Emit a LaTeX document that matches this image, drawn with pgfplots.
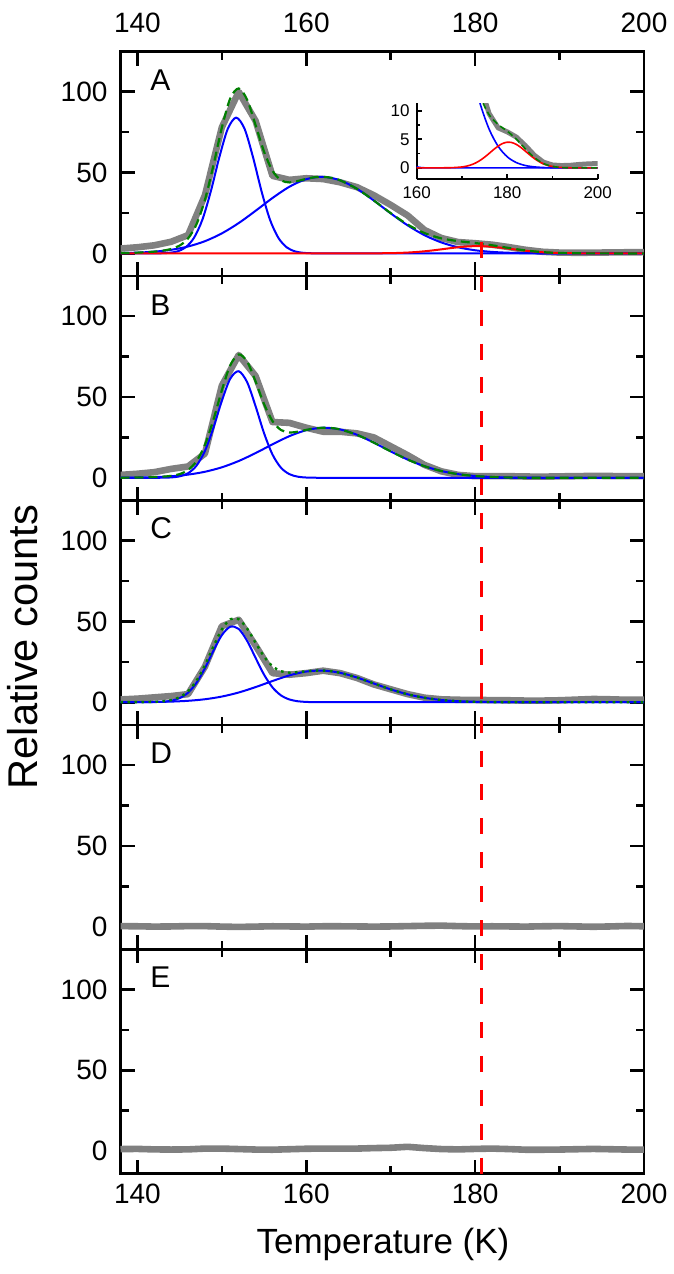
\documentclass[border=0pt]{standalone}
\usepackage{fontspec}
\setmainfont{Liberation Sans}
\usepackage{pgfplots}
\pgfplotsset{compat=1.18}
\usepackage{pgfplotstable}

\definecolor{dgray}{RGB}{128,128,128}
\definecolor{dgreen}{RGB}{0,128,0}

% ---------------- Panel A ----------------
\pgfplotstableread{
T v
138 3.0
140 3.8
142 5.0
144 7.2
146 11.3
148 36
150 78
152 100
154 82
156 48
158 45.5
160 46.5
162 46
164 44
166 41
168 36
170 30
172 23.5
174 14.5
176 9.5
178 7.0
180 6.3
182 5.4
184 3.9
186 2.2
188 1.0
190 0.5
192 0.4
194 0.45
196 0.6
198 0.7
200 0.75
}\grayA

\pgfplotstableread{
T v
138 0
139.7 0
140.7 0
141.7 0.01
142.7 0.07
143.7 0.32
144.7 1.19
145.7 3.69
146.7 9.6
147.7 20.9
148.7 38.5
149.7 59.4
150.7 77.0
151.7 84.0
152.7 77.0
153.7 59.4
154.7 38.5
155.7 20.9
156.7 9.6
157.7 3.69
158.7 1.19
159.7 0.32
160.7 0.07
161.7 0.01
162.7 0
163.7 0
200 0
}\Aone

\pgfplotstableread{
T v
138 0.20
140 0.48
142 1.08
144 2.23
146 4.26
148 7.55
150 12.38
152 18.77
154 26.36
156 34.27
158 41.24
160 45.94
162 47.38
164 45.24
166 39.99
168 32.72
170 24.78
172 17.38
174 11.28
176 6.78
178 3.77
180 1.94
182 0.93
184 0.41
186 0.17
188 0.06
190 0.02
192 0
194 0
200 0
}\Atwo

\pgfplotstableread{
T v
138 0
150 0
160 0
164 0
166 0.01
168 0.04
170 0.16
171 0.30
172 0.52
173 0.85
174 1.30
175 1.87
176 2.52
177 3.20
178 3.81
179 4.27
180 4.49
181 4.43
182 4.11
183 3.58
184 2.93
185 2.26
186 1.63
187 1.11
188 0.71
189 0.42
190 0.24
192 0.06
194 0.01
196 0
198 0
200 0
}\Ared

\pgfplotstableread{
T v
138 0.20
140 0.48
142 1.10
143 1.69
144 2.72
145 4.83
146 9.27
147 18.03
148 33.15
149 54.37
150 77.68
151 95.89
152 102.07
153 95.06
154 79.36
155 62.95
156 51.17
157 45.25
158 43.92
159 44.77
160 46.15
161 47.16
162 47.39
163 46.75
164 45.24
166 40.0
168 32.76
170 24.94
172 17.90
174 12.58
176 9.30
178 7.58
180 6.43
182 5.04
184 3.34
186 1.80
188 0.77
190 0.26
192 0.06
194 0.01
196 0
200 0
}\Agreen

% ---------------- Panel B ----------------
\pgfplotstableread{
T v
138 1.8
140 2.5
142 3.5
144 5.5
146 7
148 15
150 57
152 76
154 63
156 34.5
158 34
160 31
162 28.5
164 28.5
166 27.5
168 25
170 19.5
172 14
174 8
176 4
178 1.8
180 1.0
182 1.0
184 1.0
186 0.8
188 0.7
190 0.9
192 1.0
194 1.2
196 1.1
198 1.0
200 1.0
}\grayB

\pgfplotstableread{
T v
138 0
140 0
141 0
142 0.01
143 0.05
144 0.23
145 0.89
146 2.82
147 7.51
148 16.65
149 30.82
150 47.60
151 61.33
152 65.94
153 59.15
154 44.27
155 27.65
156 14.41
157 6.26
158 2.27
159 0.69
160 0.17
161 0.04
162 0.01
163 0
164 0
200 0
}\Bone

\pgfplotstableread{
T v
138 0.07
140 0.18
142 0.43
144 0.96
146 1.97
148 3.73
150 6.49
152 10.39
154 15.30
156 20.70
158 25.76
160 29.46
162 30.99
164 29.96
166 26.64
168 21.77
170 16.36
172 11.30
174 7.18
176 4.19
178 2.25
180 1.11
182 0.50
184 0.21
186 0.08
188 0.03
190 0.01
192 0
194 0
200 0
}\Btwo

\pgfplotstableread{
T v
138 0.07
140 0.18
142 0.43
143 0.69
144 1.19
145 2.28
146 4.79
147 10.25
148 20.38
149 35.79
150 54.09
151 69.63
152 76.33
153 71.89
154 59.57
155 45.63
156 35.11
157 29.60
158 28.03
159 28.53
160 29.63
161 30.57
162 31.0
163 30.79
164 29.96
166 26.64
168 21.77
170 16.36
172 11.30
174 7.18
176 4.19
178 2.25
180 1.11
182 0.50
184 0.21
186 0.08
188 0.03
190 0.01
192 0
194 0
200 0
}\Bgreen

% ---------------- Panel C ----------------
\pgfplotstableread{
T v
138 1.7
140 2.2
142 3.0
144 3.8
146 5.0
148 22
150 47
152 51
154 35
156 18
158 17
160 18
162 19.5
164 18
166 15
168 11
170 8
172 5
174 2.8
176 1.8
178 1.5
180 1.4
182 1.3
184 1.2
186 1.0
188 1.0
190 1.2
192 1.6
194 2.0
196 1.8
198 1.5
200 1.5
}\grayC

\pgfplotstableread{
T v
138 0
140 0
141 0.01
142 0.08
143 0.29
144 0.91
145 2.50
146 5.88
147 11.97
148 21.00
149 31.78
150 41.48
151 46.69
152 45.33
153 37.95
154 27.41
155 17.07
156 9.17
157 4.25
158 1.70
159 0.59
160 0.17
161 0.04
162 0.01
163 0
164 0
200 0
}\Cone

\pgfplotstableread{
T v
138 0.02
140 0.05
142 0.14
144 0.37
146 0.87
148 1.83
150 3.49
152 6.01
154 9.35
156 13.11
158 16.60
160 18.97
162 19.56
164 18.20
166 15.29
168 11.59
170 7.93
172 4.90
174 2.73
176 1.37
178 0.62
180 0.26
182 0.09
184 0.03
186 0.01
188 0
190 0
200 0
}\Ctwo

\pgfplotstableread{
T v
138 0.02
140 0.05
142 0.22
143 0.54
144 1.28
145 3.07
146 6.75
147 13.24
148 22.83
149 34.34
150 44.97
151 51.33
152 51.34
153 45.54
154 36.76
155 28.28
156 22.28
157 19.19
158 18.30
159 18.56
160 19.14
161 19.55
162 19.57
163 19.11
164 18.20
166 15.29
168 11.59
170 7.93
172 4.90
174 2.73
176 1.37
178 0.62
180 0.26
182 0.09
184 0.03
186 0.01
188 0
190 0
200 0
}\Cgreen

% ---------------- Panels D, E ----------------
\pgfplotstableread{
T v
138 0.3
140 0.2
142 0.0
144 0.1
146 0.3
148 0.3
150 0.0
152 -0.2
154 0.0
156 0.2
158 0.1
160 0.0
162 0.2
164 0.2
166 0.1
168 0.0
170 0.1
172 0.3
174 0.5
176 0.6
178 0.3
180 0.1
182 0.2
184 0.1
186 0.0
188 0.2
190 0.3
192 0.1
194 -0.1
196 0.1
198 0.4
200 0.2
}\grayD

\pgfplotstableread{
T v
138 1.2
140 1.3
142 1.0
144 0.9
146 1.0
148 1.5
150 1.5
152 1.2
154 0.9
156 0.8
158 1.1
160 1.4
162 1.5
164 1.5
166 1.5
168 1.8
170 2.0
172 2.6
174 1.8
176 1.2
178 1.0
180 1.3
182 1.5
184 1.2
186 0.8
188 0.8
190 0.9
192 1.1
194 1.3
196 1.1
198 0.9
200 0.9
}\grayE

\pgfplotstableread{
T v
180.7 562.6
180.7 -14.1
}\redline

\pgfplotsset{
  panel/.style={
    at={(60.25pt,#1)}, anchor=south west, scale only axis,
    width=261.75pt, height=112.2pt,
    xmin=138, xmax=200, ymin=-14.1, ymax=124.75,
    xtick={140,160,180,200}, minor xtick={150,170,190},
    ytick={0,50,100}, minor ytick={25,75},
    tick align=inside,
    major tick length=7pt, minor tick length=4pt,
    tick style={black, line width=1.3pt},
    axis line style={line width=1.3pt},
    tick label style={font=\fontsize{14}{17}\selectfont},
    /pgf/number format/assume math mode=true,
    yticklabel style={xshift=-3pt},
    no markers,
  },
  gry/.style={color=dgray, line width=3.3pt, line join=round},
  blu/.style={color=blue, line width=1pt, smooth},
  rd/.style={color=red, line width=1pt, smooth},
  grn/.style={color=dgreen, line width=1.1pt, smooth, dash pattern=on 4.5pt off 2.5pt},
  grndot/.style={color=dgreen, line width=1.2pt, smooth, dash pattern=on 1.3pt off 2.2pt},
}
\tikzset{lett/.style={anchor=base west, font=\fontsize{15}{18}\selectfont, inner sep=0pt}}

\begin{document}
\begin{tikzpicture}
\useasboundingbox (0pt,0pt) rectangle (337pt,637pt);

% Panel A
\begin{axis}[panel=498.9pt, xticklabel pos=upper, xtick pos=both, ytick pos=both,
  xticklabel style={yshift=6.2pt}]
\addplot[gry] table {\grayA};
\addplot[blu] table {\Aone};
\addplot[blu] table {\Atwo};
\addplot[rd] table {\Ared};
\addplot[grn] table {\Agreen};
\node[lett] at (rel axis cs:0.0564,0.8275) {A};
\end{axis}

% Inset
\begin{axis}[at={(208.35pt,547.35pt)}, anchor=south west, scale only axis,
  width=90.5pt, height=38pt,
  xmin=160, xmax=200, ymin=-2, ymax=11.3,
  axis x line=bottom, axis y line=left,
  axis line style={-, line width=1pt},
  xtick={160,180,200}, minor xtick={170,190},
  ytick={0,5,10}, minor ytick={2.5,7.5},
  tick align=inside, major tick length=2.6pt, minor tick length=1.6pt,
  tick style={black, line width=0.8pt},
  tick label style={font=\fontsize{8.5}{10}\selectfont},
  /pgf/number format/assume math mode=true,
  no markers]
\addplot[color=dgray, line width=2.5pt, line join=round] table {\grayA};
\addplot[color=blue, line width=0.8pt, smooth] table {\Aone};
\addplot[color=blue, line width=0.8pt, smooth] table {\Atwo};
\addplot[color=red, line width=0.8pt, smooth] table {\Ared};
\addplot[color=dgreen, line width=0.8pt, smooth, dash pattern=on 3pt off 1.8pt] table {\Agreen};
\end{axis}

% Panel B
\begin{axis}[panel=386.7pt, xticklabels={}, xtick pos=both, ytick pos=both]
\addplot[gry] table {\grayB};
\addplot[blu] table {\Bone};
\addplot[blu] table {\Btwo};
\addplot[grn] table {\Bgreen};
\node[lett] at (rel axis cs:0.0564,0.825) {B};
\end{axis}

% Panel C
\begin{axis}[panel=274.5pt, xticklabels={}, xtick pos=both, ytick pos=both]
\addplot[gry] table {\grayC};
\addplot[blu] table {\Cone};
\addplot[blu] table {\Ctwo};
\addplot[grndot] table {\Cgreen};
\node[lett] at (rel axis cs:0.0564,0.83) {C};
\end{axis}

% Panel D
\begin{axis}[panel=162.3pt, xticklabels={}, xtick pos=both, ytick pos=both]
\addplot[gry] table {\grayD};
\node[lett] at (rel axis cs:0.0564,0.83) {D};
\end{axis}

% Panel E
\begin{axis}[panel=50.1pt, xtick pos=both, ytick pos=both, clip=false,
  xticklabel style={yshift=-1.3pt}]
\addplot[gry] table {\grayE};
\node[lett] at (rel axis cs:0.0564,0.83) {E};
\addplot[color=red, line width=1.5pt, dash pattern=on 8pt off 8.96pt] table {\redline};
\end{axis}

\node[rotate=90, anchor=base, font=\fontsize{20.8}{24}\selectfont] at (19pt,313.5pt) {Relative counts};
\node[anchor=base, font=\fontsize{17.5}{21}\selectfont] at (191.5pt,10pt) {Temperature (K)};
\end{tikzpicture}
\end{document}
